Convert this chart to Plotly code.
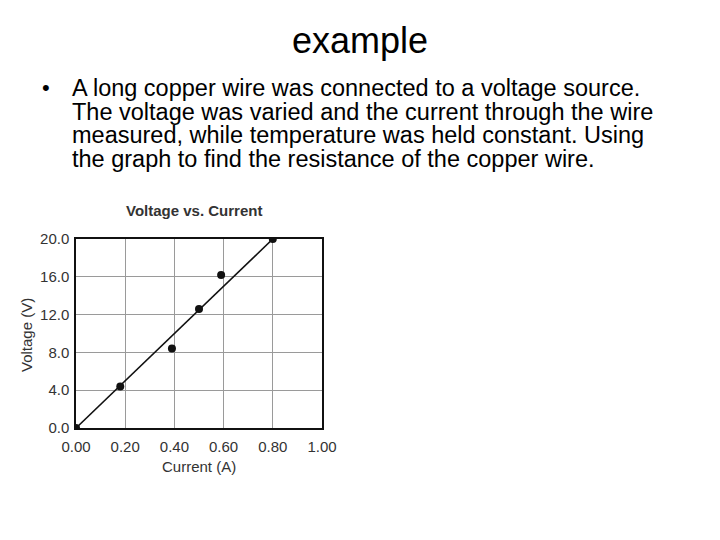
import plotly.graph_objects as go

# Data
current_a = [0.0, 0.18, 0.39, 0.50, 0.59, 0.80]
voltage_v = [0.0, 4.4, 8.4, 12.6, 16.2, 20.0]
fit_current = [0.0, 0.80]
fit_voltage = [0.0, 20.0]

x_ticks = [0.0, 0.2, 0.4, 0.6, 0.8, 1.0]
y_ticks = [0.0, 4.0, 8.0, 12.0, 16.0, 20.0]

slide_title = "example"
bullet_lines = [
    "A long copper wire was connected to a voltage source.",
    "The voltage was varied and the current through the wire",
    "measured, while temperature was held constant. Using",
    "the graph to find the resistance of the copper wire.",
]
chart_title = "Voltage vs. Current"
x_title = "Current (A)"
y_title = "Voltage (V)"

# page body has an 8px margin; figure is sized to fit inside the window
OFF = 8
W, H = 712, 532
def px(x):
    return (x - OFF) / W
def py(y):
    return 1 - (y - OFF) / H

fig = go.Figure()
fig.add_trace(go.Scatter(x=fit_current, y=fit_voltage, mode="lines",
                         line=dict(color="#111111", width=1.6), hoverinfo="skip"))
fig.add_trace(go.Scatter(x=current_a, y=voltage_v, mode="markers",
                         marker=dict(color="#111111", size=8)))

fig.update_layout(
    width=W, height=H, showlegend=False,
    paper_bgcolor="white", plot_bgcolor="white",
    margin=dict(l=0, r=0, t=0, b=0, autoexpand=False),
    font=dict(family="Liberation Sans, Arial, sans-serif", color="#222222"),
    xaxis=dict(domain=[px(76), px(322)], range=[0, 1.0], tickvals=x_ticks,
               tickformat=".2f", showgrid=True, gridcolor="#9a9a9a", gridwidth=1,
               zeroline=False, showline=True, linecolor="#111111", linewidth=1.5,
               mirror=True, ticks="outside", ticklen=4, tickcolor="rgba(0,0,0,0)",
               tickfont=dict(size=15, color="#333333"), automargin=False),
    yaxis=dict(domain=[py(428), py(239)], range=[0, 20.0], tickvals=y_ticks,
               tickformat=".1f", showgrid=True, gridcolor="#9a9a9a", gridwidth=1,
               zeroline=False, showline=True, linecolor="#111111", linewidth=1.5,
               mirror=True, ticks="outside", ticklen=2, tickcolor="rgba(0,0,0,0)",
               tickfont=dict(size=15, color="#333333"), automargin=False),
)

anns = [
    dict(text=slide_title, x=px(360), y=py(40), xanchor="center", yanchor="middle",
         font=dict(size=36, color="black")),
    dict(text="•", x=px(46), y=py(87), xanchor="center", yanchor="middle",
         font=dict(size=22, color="black")),
    dict(text="<b>" + chart_title + "</b>", x=px(194), y=py(210), xanchor="center",
         yanchor="middle", font=dict(size=15, color="#333333")),
    dict(text=x_title, x=px(199), y=py(466), xanchor="center", yanchor="middle",
         font=dict(size=15, color="#333333")),
    dict(text=y_title, x=px(26), y=py(335), xanchor="center", yanchor="middle",
         textangle=-90, font=dict(size=15, color="#333333")),
]
line_y = [88, 111.5, 135, 158.5]
for t, yy in zip(bullet_lines, line_y):
    anns.append(dict(text=t, x=px(70), y=py(yy), xanchor="left", yanchor="middle",
                     font=dict(size=23.5, color="black")))
for a in anns:
    a.update(xref="paper", yref="paper", showarrow=False)
fig.update_layout(annotations=anns)

fig.write_html("out.html")
